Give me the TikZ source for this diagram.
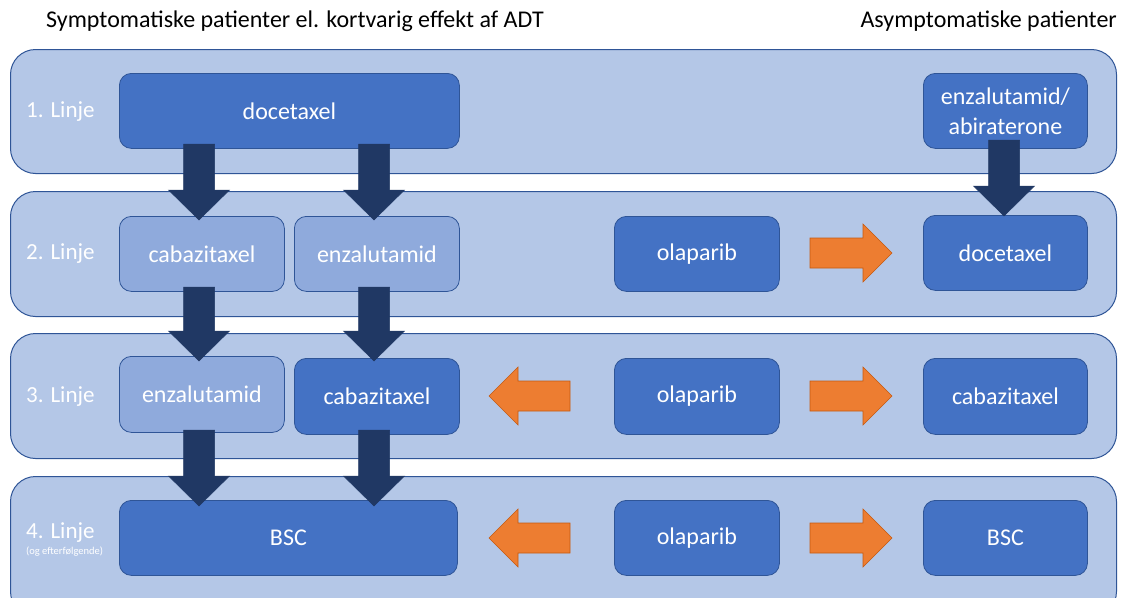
\documentclass[tikz,border=0pt]{standalone}
\usepackage{fontspec}
\setmainfont{Carlito}
\definecolor{bandfill}{HTML}{B4C7E7}
\definecolor{bandline}{HTML}{2F5597}
\definecolor{darkbox}{HTML}{4472C4}
\definecolor{lightbox}{HTML}{8FAADC}
\definecolor{navy}{HTML}{203864}
\definecolor{orng}{HTML}{ED7D31}
\definecolor{orngline}{HTML}{C55A11}
\tikzset{
  band/.style={draw=bandline, fill=bandfill, line width=1pt, rounded corners=25pt, anchor=north west, inner sep=0pt},
  darkb/.style={draw=bandline, fill=darkbox, line width=0.8pt, rounded corners=12pt, anchor=north west, text=white, font=\fontsize{24}{29}\selectfont, align=center, inner sep=0pt},
  lightb/.style={darkb, fill=lightbox},
  rowlbl/.style={text=white, font=\fontsize{23}{27}\selectfont, anchor=west, inner sep=0pt},
  title/.style={text=black, font=\fontsize{24}{28}\selectfont, inner sep=0pt},
  navyarrow/.style={fill=navy, draw=navy, line width=0.5pt},
  orarrow/.style={fill=orng, draw=orngline, line width=0.6pt}
}
% down arrow: x, ytop, ytip
\newcommand{\dnarrow}[3]{%
  \draw[navyarrow] (#1-15.5,#2) -- (#1+15.5,#2) -- (#1+15.5,#3-30) -- (#1+30.5,#3-30) -- (#1,#3) -- (#1-30.5,#3-30) -- (#1-15.5,#3-30) -- cycle;}
% right arrow: xleft, xtip, ycenter
\newcommand{\rtarrow}[3]{%
  \draw[orarrow] (#1,#3-15) -- (#2-29,#3-15) -- (#2-29,#3-29) -- (#2,#3) -- (#2-29,#3+29) -- (#2-29,#3+15) -- (#1,#3+15) -- cycle;}
% left arrow: xright, xtip, ycenter
\newcommand{\lfarrow}[3]{%
  \draw[orarrow] (#1,#3-15) -- (#2+29,#3-15) -- (#2+29,#3-29) -- (#2,#3) -- (#2+29,#3+29) -- (#2+29,#3+15) -- (#1,#3+15) -- cycle;}
\begin{document}
\begin{tikzpicture}[x=1pt,y=-1pt]
\useasboundingbox (0,0) rectangle (1129,597);
\clip (0,0) rectangle (1129,597);
\fill[white] (0,0) rectangle (1129,597);
% titles
\node[title, anchor=west] (t1) at (46,21) {Symptomatiske patienter el. kortvarig effekt af ADT};
\node[title, anchor=east] (t2) at (1117,21) {Asymptomatiske patienter};
% bands
\node[band, minimum width=1106pt, minimum height=124pt] (b1) at (10,49) {};
\node[band, minimum width=1106pt, minimum height=125pt] (b2) at (10,191) {};
\node[band, minimum width=1106pt, minimum height=125pt] (b3) at (10,333) {};
\node[band, minimum width=1106pt, minimum height=140pt] (b4) at (10,476) {};
% row labels
\node[rowlbl] (l1) at (26,112) {1. Linje};
\node[rowlbl] (l2) at (26,254) {2. Linje};
\node[rowlbl] (l3) at (26,397) {3. Linje};
\node[rowlbl] (l4) at (26,533) {4. Linje};
\node[text=white, font=\fontsize{10.5}{12}\selectfont, anchor=west, inner sep=0pt] (l4s) at (26,552) {(og efterfølgende)};
% row 1
\node[darkb, minimum width=340pt, minimum height=75pt] (r1a) at (119,73) {docetaxel};
\node[darkb, minimum width=164pt, minimum height=75pt, font=\fontsize{24}{30}\selectfont] (r1b) at (923,73) {enzalutamid/\\abiraterone};
% row 2
\node[lightb, minimum width=165pt, minimum height=75pt] (r2a) at (119,216) {cabazitaxel};
\node[lightb, minimum width=165pt, minimum height=75pt] (r2b) at (294,216) {enzalutamid};
\node[darkb, minimum width=165pt, minimum height=75pt] (r2c) at (614,216) {olaparib};
\node[darkb, minimum width=164pt, minimum height=75pt] (r2d) at (923,215) {docetaxel};
% row 3
\node[lightb, minimum width=165pt, minimum height=76pt] (r3a) at (119,356) {enzalutamid};
\node[darkb, minimum width=165pt, minimum height=76pt] (r3b) at (294,358) {cabazitaxel};
\node[darkb, minimum width=165pt, minimum height=76pt] (r3c) at (614,358) {olaparib};
\node[darkb, minimum width=164pt, minimum height=76pt] (r3d) at (923,358) {cabazitaxel};
% row 4
\node[darkb, minimum width=338pt, minimum height=75pt] (r4a) at (119,500) {BSC};
\node[darkb, minimum width=165pt, minimum height=75pt] (r4c) at (614,500) {olaparib};
\node[darkb, minimum width=164pt, minimum height=75pt] (r4d) at (923,500) {BSC};
% navy arrows
\dnarrow{199}{144}{220}
\dnarrow{374}{144}{220}
\dnarrow{1004}{140}{216}
\dnarrow{199}{287}{361}
\dnarrow{374}{287}{361}
\dnarrow{199}{430}{506}
\dnarrow{374}{430}{506}
% orange arrows
\rtarrow{810}{892}{253}
\rtarrow{810}{892}{396}
\lfarrow{570}{489}{396}
\rtarrow{810}{892}{538}
\lfarrow{570}{489}{538}
\end{tikzpicture}
\end{document}
